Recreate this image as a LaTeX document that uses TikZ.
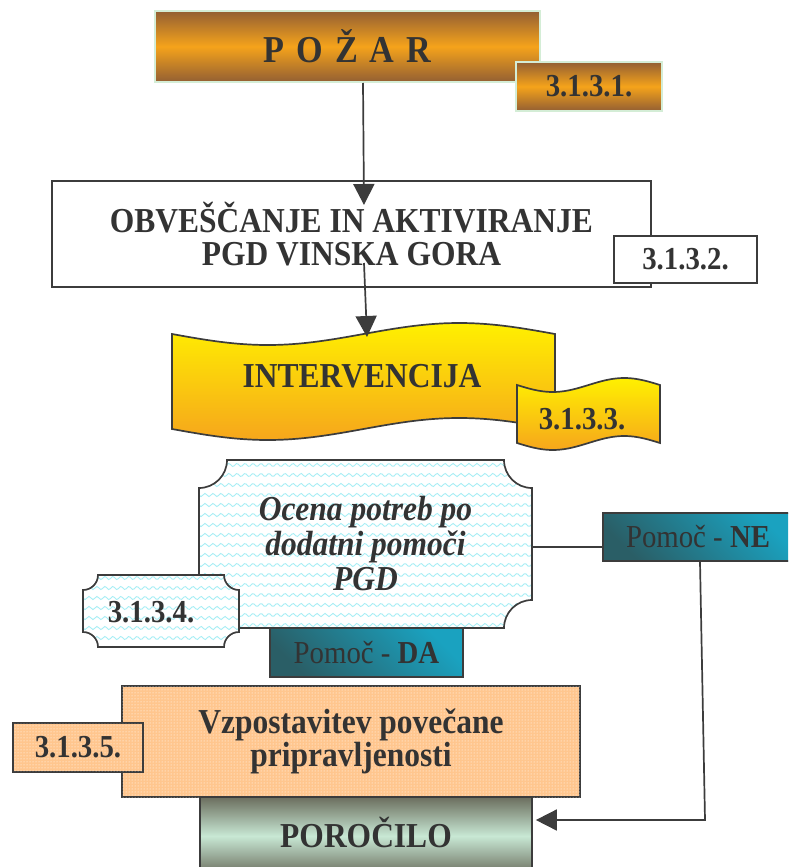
\documentclass[tikz,border=0pt]{standalone}
\usepackage{fontspec}
\setmainfont{Liberation Serif}[FakeStretch=0.9]
\usetikzlibrary{arrows.meta,patterns,calc}
\definecolor{txt}{HTML}{333333}
\definecolor{edge}{HTML}{3C3C3C}
\definecolor{brn}{HTML}{935F33}
\definecolor{org}{HTML}{F5A31B}
\definecolor{pale}{HTML}{D4EDD6}
\definecolor{ylw}{HTML}{FFF000}
\definecolor{borg}{HTML}{F6A61C}
\definecolor{wavec}{HTML}{A8EEF5}
\definecolor{peach}{HTML}{FFC68E}
\definecolor{tdark}{HTML}{2A5E66}
\definecolor{tlight}{HTML}{1AA2C0}
\definecolor{olv}{HTML}{6B6E5E}
\definecolor{mint}{HTML}{C8E8D4}
\newcommand{\bevelpath}[5]{%
(#1+#5,#2) -- (#3-#5,#2) .. controls (#3-#5,#2+0.552*#5) and (#3-0.552*#5,#2+#5) .. (#3,#2+#5)
-- (#3,#4-#5) .. controls (#3-0.552*#5,#4-#5) and (#3-#5,#4-0.552*#5) .. (#3-#5,#4)
-- (#1+#5,#4) .. controls (#1+#5,#4-0.552*#5) and (#1+0.552*#5,#4-#5) .. (#1,#4-#5)
-- (#1,#2+#5) .. controls (#1+0.552*#5,#2+#5) and (#1+#5,#2+0.552*#5) .. (#1+#5,#2) -- cycle}
\begin{document}
\begin{tikzpicture}[x=1pt,y=-1pt,
 conn/.style={draw=edge, line width=1.7pt},
 arr/.style={conn, -{Triangle[length=21pt,width=21pt]}},
 big/.style={font=\bfseries\fontsize{35}{33}\selectfont, text=txt, align=center},
 num/.style={font=\bfseries\fontsize{32}{32}\selectfont, text=txt},
 pom/.style={font=\fontsize{32}{32}\selectfont, text=txt},
 rbox/.style={draw=edge, line width=1.7pt, inner sep=0pt},
 gold/.style={top color=brn, bottom color=brn, middle color=org, draw=pale, line width=2pt, inner sep=0pt},
 tealbox/.style={rbox, left color=tdark, right color=tlight, shading angle=135},
 wavy/.style={draw=wavec, line width=0.9pt},
 outl/.style={draw=edge, line width=1.7pt},
]
\useasboundingbox (0,0) rectangle (788,867);
\clip (0,0) rectangle (788,867);

% POZAR
\node[gold, minimum width=385pt, minimum height=71pt, font=\bfseries\fontsize{38}{38}\selectfont, text=txt] (pozar) at (347.5,46.5)
  {P\hskip12pt O\hskip12pt Ž\hskip12pt A\hskip12pt R};
\node[gold, minimum width=146pt, minimum height=49pt, num] (n1) at (589,86.5) {\raisebox{-4.5pt}{3.1.3.1.}};

% Obvescanje
\node[rbox, fill=white, minimum width=599pt, minimum height=106pt, big] (obv) at (351.5,234)
  {OBVEŠČANJE IN AKTIVIRANJE\\PGD VINSKA GORA};
\node[rbox, fill=white, minimum width=143pt, minimum height=47pt, num] (n2) at (685.5,259.5) {\raisebox{-3pt}{3.1.3.2.}};

\coordinate (a1s) at ($(pozar.south)+(15.5,0)$);
\coordinate (a1e) at (364,205);
\draw[arr] (a1s) -- (a1e);

% Intervencija banner
\shadedraw[top color=ylw, bottom color=borg, outl]
  plot[domain=172:555, samples=80] (\x,{334+11*sin(0.93995*(\x-172))})
  -- plot[domain=555:172, samples=80] (\x,{429+11*sin(0.93995*(\x-172))}) -- cycle;
\node[big] (interv) at (362,376) {INTERVENCIJA};
\shadedraw[top color=ylw, bottom color=borg, outl]
  plot[domain=517:660, samples=40] (\x,{385+7*sin(2.5175*(\x-517))})
  -- plot[domain=660:517, samples=40] (\x,{443+7*sin(2.5175*(\x-517))}) -- cycle;
\node[num] (n3) at (582,419) {3.1.3.3.};

\coordinate (a2s) at (364,263);
\coordinate (a2e) at (367,337);
\draw[arr] (a2s) -- (a2e);

% Ocena
\fill[white] \bevelpath{199}{460}{532}{628}{28};
\begin{scope}
\clip \bevelpath{199}{460}{532}{628}{28};
\foreach \yy in {465,475,...,630}
  \draw[wavy] plot[domain=199:532, samples=170] (\x,{\yy+1.6*sin(45*(\x-199))});
\end{scope}
\draw[outl] \bevelpath{199}{460}{532}{628}{28};
\node[minimum width=333pt, minimum height=168pt, inner sep=0pt, big, font=\bfseries\itshape\fontsize{35}{35}\selectfont] (ocena) at (365.5,544)
  {Ocena potreb po\\dodatni pomoči\\PGD};

\fill[white] \bevelpath{83}{575}{239}{647}{15};
\begin{scope}
\clip \bevelpath{83}{575}{239}{647}{15};
\foreach \yy in {578,588,...,650}
  \draw[wavy] plot[domain=83:239, samples=80] (\x,{\yy+1.6*sin(45*(\x-83))});
\end{scope}
\draw[outl] \bevelpath{83}{575}{239}{647}{15};
\node[num] (n4) at (151,612) {3.1.3.4.};

% Pomoc boxes
\node[tealbox, minimum width=193pt, minimum height=49pt, pom] (da) at (366.5,652.5) {\raisebox{-3pt}{Pomoč - \textbf{DA}}};
\node[tealbox, minimum width=190pt, minimum height=48pt, pom] (ne) at (698,537) {\raisebox{-5pt}{Pomoč - \textbf{NE}}};

\coordinate (nej) at ($(ne.west)+(0,10)$);
\draw[conn] (nej) -- (nej -| ocena.east);

% Vzpostavitev
\node[rbox, fill=peach, postaction={pattern=dots, pattern color=white}, minimum width=458pt, minimum height=111pt, big] (vzp) at (351,741.5)
  {Vzpostavitev povečane\\pripravljenosti};
\node[rbox, fill=peach, postaction={pattern=dots, pattern color=white}, minimum width=130pt, minimum height=49pt, num] (n5) at (78,747.5) {\raisebox{-3pt}{3.1.3.5.}};

% Porocilo
\node[rbox, top color=olv, bottom color=olv, middle color=mint, minimum width=332pt, minimum height=78pt, big] (poro) at (366,836)
  {\raisebox{8pt}{POROČILO}};

\coordinate (nes) at ($(ne.south)+(2,0)$);
\coordinate (nec) at (705,820);
\draw[arr, shorten >=3pt] (nes) -- (nec) -- (nec -| poro.east);
\end{tikzpicture}
\end{document}
